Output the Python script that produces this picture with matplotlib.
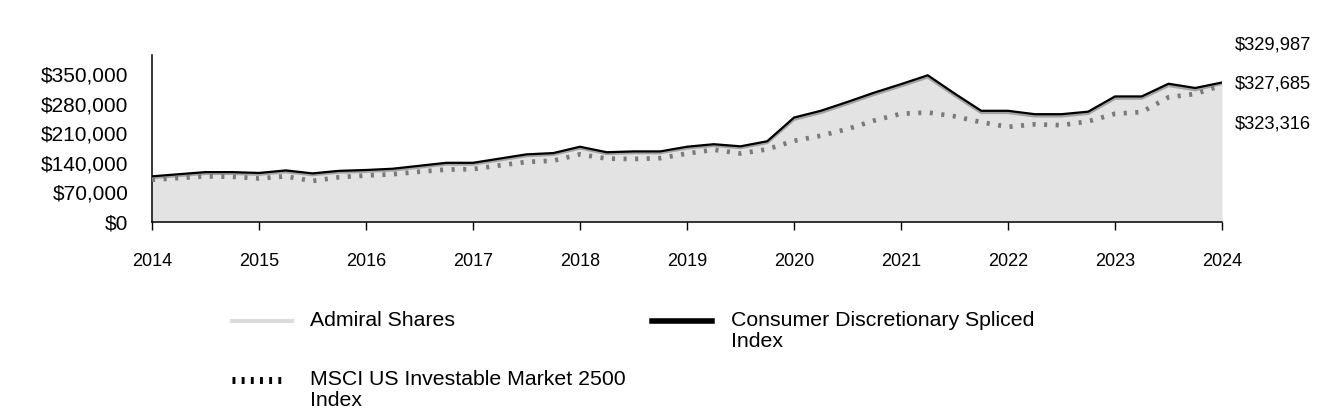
import numpy as np
import matplotlib
matplotlib.use("Agg")
import matplotlib.pyplot as plt
from matplotlib.lines import Line2D

plt.rcParams["font.family"] = ["Liberation Sans", "DejaVu Sans"]

# quarterly points, 2014 .. 2024
years = [2014 + q * 0.25 for q in range(41)]

admiral = [105, 110, 115, 115, 113, 119, 112, 118, 120, 123, 130, 137, 137, 147,
           157, 160, 175, 162, 164, 164, 175, 181, 176, 188, 243, 259, 280, 302,
           322, 343, 300, 259, 259, 251, 251, 257, 293, 293, 323, 313, 327.685]
spliced = [108, 113, 118, 118, 116, 122, 115, 121, 123, 126, 133, 140, 140, 150,
           160, 163, 178, 165, 167, 167, 178, 184, 179, 191, 247, 263, 284, 306,
           326, 347, 304, 263, 263, 255, 255, 261, 297, 297, 327, 317, 329.987]
msci = [100, 104, 108, 107, 103, 108, 97, 106, 110, 113, 119, 124, 125, 134,
        142, 145, 160, 150, 149, 151, 162, 171, 162, 172, 192, 204, 220, 240,
        256, 259, 250, 236, 225, 231, 229, 238, 256, 260, 295, 303, 323.316]

admiral = np.array(admiral) * 1000
spliced = np.array(spliced) * 1000
msci = np.array(msci) * 1000

yticks = [0, 70000, 140000, 210000, 280000, 350000]
xticks = list(range(2014, 2025))
end_labels = ["$329,987", "$327,685", "$323,316"]

fig = plt.figure(figsize=(13.44, 4.2), dpi=100)
ax = fig.add_axes([152 / 1344, 1 - 222 / 420, 1070 / 1344, 167 / 420])

ax.fill_between(years, 0, admiral, color="#e3e3e3", lw=0, zorder=1)
ax.plot(years, admiral, color="#a3a3a3", lw=2.4, zorder=2)
ax.plot(years, spliced, color="black", lw=1.6, zorder=3)
ax.plot(years, msci, color="#7a7a7a", lw=3.4, ls=(0, (0.65, 1.8)), zorder=4)

ax.set_xlim(2014, 2024)
ax.set_ylim(0, 395000)
ax.set_xticks(xticks)
ax.set_yticks(yticks)
ax.set_yticklabels([f"${v:,.0f}" for v in yticks], fontsize=15)
ax.tick_params(axis="y", length=0, pad=17)
ax.tick_params(axis="x", length=5.5, width=1, pad=16.5, labelsize=13)
for s in ["top", "right"]:
    ax.spines[s].set_visible(False)
for s in ["left", "bottom"]:
    ax.spines[s].set_linewidth(1.1)

for lab, ypx in zip(end_labels, [45, 84, 124]):
    fig.text(1235 / 1344, 1 - ypx / 420, lab, fontsize=13.2, va="center", ha="left")

# legend, drawn by hand
def leg(x0, x1, ypx, tx, text, **kw):
    fig.add_artist(Line2D([x0 / 1344, x1 / 1344], [1 - ypx / 420] * 2, **kw))
    fig.text(tx / 1344, 1 - (ypx - 10) / 420, text, fontsize=15.3, va="top",
             ha="left", linespacing=1.15)

leg(232, 292, 321, 310, "Admiral Shares", color="#dcdcdc", lw=3)
leg(652, 712, 321, 731, "Consumer Discretionary Spliced\nIndex", color="black", lw=4)
leg(232, 287, 380, 310, "MSCI US Investable Market 2500\nIndex", color="black", lw=5,
    ls=(0, (0.42, 0.9)))

fig.savefig("out.png", dpi=100)
